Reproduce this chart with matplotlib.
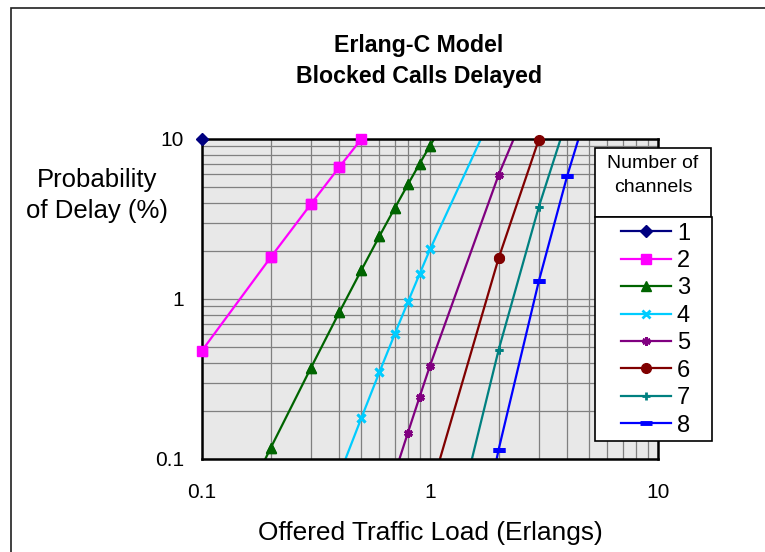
import matplotlib.pyplot as plt
from matplotlib.patches import Rectangle
from matplotlib.ticker import LogLocator, NullFormatter, FixedLocator, FixedFormatter

plt.rcParams['font.family'] = ['Liberation Sans', 'DejaVu Sans']

# Erlang-C probability of delay (%) vs offered traffic (Erlangs)
ch1_x = [0.1, 0.2]
ch1_y = [10.0, 20.0]
ch2_x = [0.1, 0.2, 0.3, 0.4, 0.5, 0.6]
ch2_y = [0.476, 1.82, 3.91, 6.67, 10.0, 13.8]
ch3_x = [0.1, 0.2, 0.3, 0.4, 0.5, 0.6, 0.7, 0.8, 0.9, 1.0, 2.0]
ch3_y = [0.0156, 0.117, 0.370, 0.825, 1.515, 2.47, 3.69, 5.20, 7.00, 9.09, 44.4]
ch4_x = [0.4, 0.5, 0.6, 0.7, 0.8, 0.9, 1.0, 2.0]
ch4_y = [0.0794, 0.1805, 0.349, 0.602, 0.958, 1.433, 2.04, 17.4]
ch5_x = [0.7, 0.8, 0.9, 1.0, 2.0, 3.0]
ch5_y = [0.0809, 0.146, 0.244, 0.383, 5.97, 23.6]
ch6_x = [1.0, 2.0, 3.0, 4.0]
ch6_y = [0.0613, 1.80, 9.91, 28.5]
ch7_x = [1.0, 2.0, 3.0, 4.0]
ch7_y = [0.00852, 0.481, 3.76, 13.5]
ch8_x = [1.0, 2.0, 3.0, 4.0, 5.0]
ch8_y = [0.00104, 0.1146, 1.29, 5.90, 16.7]

labels = ['1', '2', '3', '4', '5', '6', '7', '8']
xs = [ch1_x, ch2_x, ch3_x, ch4_x, ch5_x, ch6_x, ch7_x, ch8_x]
ys = [ch1_y, ch2_y, ch3_y, ch4_y, ch5_y, ch6_y, ch7_y, ch8_y]

colors = ['#000080', '#FF00FF', '#006400', '#00CCFF', '#800080', '#800000', '#008080', '#0000FF']
markers = ['D', 's', '^', 'x', (6, 2, 0), 'o', '+', '_']
msizes = [6, 7, 7, 6, 6, 7, 6, 8]
mews = [1, 1, 1, 2, 2, 1, 2, 3.5]

W, H = 765, 552
fig = plt.figure(figsize=(W / 100, H / 100), dpi=100)

def fx(px):
    return px / W

def fy(py):
    return 1 - py / H

ax = fig.add_axes([fx(202), fy(459), fx(658) - fx(202), fy(139) - fy(459)])
ax.set_facecolor('#e8e8e8')

handles = []
for i in range(8):
    line, = ax.plot(xs[i], ys[i], color=colors[i], lw=1.6, marker=markers[i],
                    markersize=msizes[i], markeredgewidth=mews[i], label=labels[i])
    handles.append(line)
    # excel draws markers on the plot edge without cutting them
    inside = [(x, y) for x, y in zip(xs[i], ys[i]) if 0.1 <= x <= 10 and 0.1 <= y <= 10]
    if inside:
        ax.plot([p[0] for p in inside], [p[1] for p in inside], ls='none',
                color=colors[i], marker=markers[i], markersize=msizes[i],
                markeredgewidth=mews[i], clip_on=False, zorder=4)

ax.set_xscale('log')
ax.set_yscale('log')
ax.set_xlim(0.1, 10)
ax.set_ylim(0.1, 10)

ax.xaxis.set_major_locator(FixedLocator([0.1, 1, 10]))
ax.xaxis.set_major_formatter(FixedFormatter(['0.1', '1', '10']))
ax.yaxis.set_major_locator(FixedLocator([0.1, 1, 10]))
ax.yaxis.set_major_formatter(FixedFormatter(['0.1', '1', '10']))
for axis in (ax.xaxis, ax.yaxis):
    axis.set_minor_locator(LogLocator(base=10, subs=range(2, 10)))
    axis.set_minor_formatter(NullFormatter())

ax.grid(True, which='both', color='#808080', lw=0.9)
ax.set_axisbelow(True)
ax.tick_params(which='both', length=0, labelsize=15)
ax.tick_params(axis='x', pad=17)
ax.tick_params(axis='y', pad=13)
for s in ax.spines.values():
    s.set_linewidth(1.8)
    s.set_color('black')

# titles and axis labels
fig.text(fx(419), fy(51.7), 'Erlang-C Model', ha='center', va='baseline',
         fontsize=16.7, fontweight='bold')
fig.text(fx(419), fy(82.7), 'Blocked Calls Delayed', ha='center', va='baseline',
         fontsize=16.7, fontweight='bold')
fig.text(fx(97), fy(186.7), 'Probability', ha='center', va='baseline', fontsize=18.5)
fig.text(fx(97), fy(218), 'of Delay (%)', ha='center', va='baseline', fontsize=18.5)
fig.text(fx(430), fy(540), 'Offered Traffic Load (Erlangs)', ha='center',
         va='baseline', fontsize=18.9)

# legend: title box on top of entries box
fig.patches.append(Rectangle((fx(595), fy(217)), fx(711) - fx(595), fy(148) - fy(217),
                             transform=fig.transFigure, facecolor='white',
                             edgecolor='black', lw=1.2, zorder=5))
fig.text(fx(653), fy(175.5), 'Number of\nchannels', ha='center', va='center',
         fontsize=14, linespacing=1.6, zorder=6)
fig.patches.append(Rectangle((fx(595), fy(440.7)), fx(712) - fx(595), fy(217) - fy(440.7),
                             transform=fig.transFigure, facecolor='white',
                             edgecolor='black', lw=1.2, zorder=5))
leg = fig.legend(handles, labels, loc='upper left', bbox_to_anchor=(fx(621), fy(222.5)),
                 bbox_transform=fig.transFigure, borderaxespad=0, frameon=False,
                 fontsize=17, handlelength=2.12, handletextpad=0.25,
                 labelspacing=0.23, borderpad=0)
leg.set_zorder(7)

# outer chart border
fig.patches.append(Rectangle((fx(11), -0.1), 1.2, fy(8) + 0.1,
                             transform=fig.transFigure, facecolor='none',
                             edgecolor='#202020', lw=1.2))

plt.savefig('out.png', dpi=100)
